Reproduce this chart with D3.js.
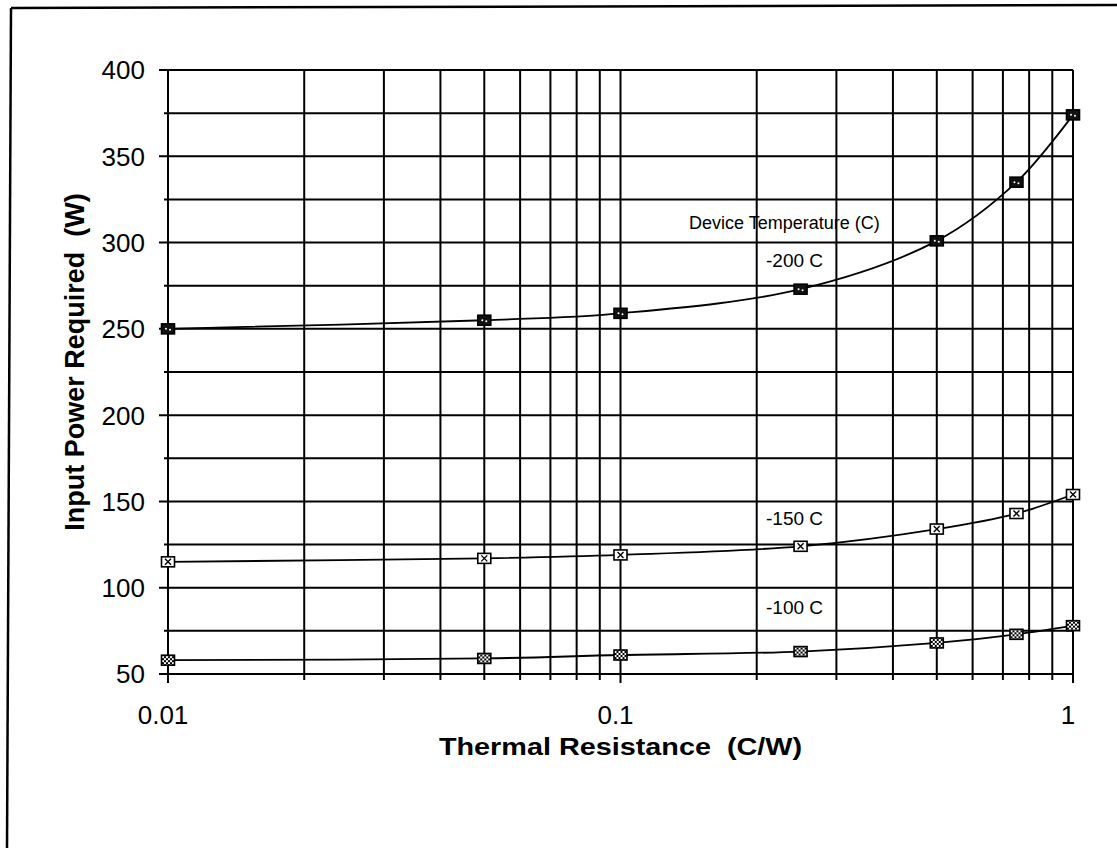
<!DOCTYPE html>
<html>
<head>
<meta charset="utf-8">
<script src="https://cdn.jsdelivr.net/npm/d3@7"></script>
<style>
  body { margin: 0; background: #fff; }
  text { font-family: "Liberation Sans", Arial, sans-serif; fill: #000; white-space: pre; }
</style>
</head>
<body>
<div id="chart"></div>
<script>
const width = 1117;
const height = 848;

// thermal resistance values (C/W)
const resistance = [0.01, 0.05, 0.1, 0.25, 0.5, 0.75, 1];
// input power required (W) for each device temperature
const power200 = [250, 255, 259, 273, 301, 335, 374];
const power150 = [115, 117, 119, 124, 134, 143, 154];
const power100 = [58, 59, 61, 63, 68, 73, 78];
const seriesNames = ["-200 C", "-150 C", "-100 C"];
const xTickLabels = ["0.01", "0.1", "1"];
const yTicks = [50, 100, 150, 200, 250, 300, 350, 400];

const margin = { top: 70, right: 44, bottom: 174, left: 168 };
const innerW = width - margin.left - margin.right;
const innerH = height - margin.top - margin.bottom;

const svg = d3.select("#chart").append("svg")
    .attr("width", width)
    .attr("height", height);

// scanned page frame (left + top edges)
svg.append("line").attr("x1", 11).attr("y1", 8).attr("x2", 7).attr("y2", height)
    .attr("stroke", "#000").attr("stroke-width", 2.5);
svg.append("line").attr("x1", 11).attr("y1", 8).attr("x2", width).attr("y2", 5)
    .attr("stroke", "#000").attr("stroke-width", 2.5);

// checker pattern for the -100 C markers
const defs = svg.append("defs");
const pat = defs.append("pattern").attr("id", "checker")
    .attr("width", 4).attr("height", 4).attr("patternUnits", "userSpaceOnUse");
pat.append("rect").attr("width", 4).attr("height", 4).attr("fill", "#fff");
pat.append("rect").attr("width", 2).attr("height", 2).attr("fill", "#000");
pat.append("rect").attr("x", 2).attr("y", 2).attr("width", 2).attr("height", 2).attr("fill", "#000");

const g = svg.append("g").attr("transform", `translate(${margin.left},${margin.top})`);

const x = d3.scaleLog().domain([0.01, 1]).range([0, innerW]);
const y = d3.scaleLinear().domain([50, 400]).range([innerH, 0]);

// gridlines: every 25 W, and every log minor step
const hLines = d3.range(50, 401, 25);
const vLines = x.ticks();

g.selectAll(".hgrid").data(hLines).enter().append("line")
    .attr("x1", d => d % 50 === 0 ? -9 : -4)
    .attr("x2", innerW)
    .attr("y1", d => y(d)).attr("y2", d => y(d))
    .attr("stroke", "#000").attr("stroke-width", 2);

g.selectAll(".vgrid").data(vLines).enter().append("line")
    .attr("x1", d => x(d)).attr("x2", d => x(d))
    .attr("y1", 0)
    .attr("y2", d => innerH + (xTickLabels.includes(String(d)) ? 9 : 6))
    .attr("stroke", "#000").attr("stroke-width", 2);

// tick labels
g.selectAll(".ylab").data(yTicks).enter().append("text")
    .attr("x", -23)
    .attr("y", d => y(d))
    .attr("dy", "0.36em")
    .attr("text-anchor", "end")
    .style("font-size", "26px")
    .text(d => d);

g.selectAll(".xlab").data(xTickLabels).enter().append("text")
    .attr("x", d => x(+d) - 5)
    .attr("y", innerH + 50)
    .attr("text-anchor", "middle")
    .style("font-size", "26px")
    .text(d => d);

// axis titles (the scan is a little wider than tall, so stretch sideways)
g.append("text")
    .attr("transform", `translate(${innerW / 2},${innerH + 81}) scale(1.2,1)`)
    .attr("text-anchor", "middle")
    .style("font-size", "24px")
    .style("font-weight", "bold")
    .text("Thermal Resistance  (C/W)");

g.append("text")
    .attr("transform", `translate(${-84},${innerH / 2 - 10}) rotate(-90)`)
    .attr("text-anchor", "middle")
    .style("font-size", "27px")
    .style("font-weight", "bold")
    .text("Input Power Required  (W)");

// series lines
const series = [power200, power150, power100].map((vals, i) => ({
    name: seriesNames[i],
    points: resistance.map((r, j) => ({ r: r, p: vals[j] }))
}));

const line = d3.line()
    .x(d => x(d.r))
    .y(d => y(d.p))
    .curve(d3.curveCatmullRom.alpha(0.5));

g.selectAll(".series").data(series).enter().append("path")
    .attr("d", d => line(d.points))
    .attr("fill", "none")
    .attr("stroke", "#000")
    .attr("stroke-width", 1.8);

// markers
const markerFill = ["#111", "#fff", "url(#checker)"];
series.forEach((s, i) => {
    const m = g.selectAll(".m" + i).data(s.points).enter().append("g")
        .attr("transform", d => `translate(${x(d.r)},${y(d.p)})`);
    m.append("rect")
        .attr("x", -6.5).attr("y", -5).attr("width", 13).attr("height", 10)
        .attr("fill", markerFill[i])
        .attr("stroke", "#000").attr("stroke-width", 1.6);
    if (i === 0) {
        m.append("circle").attr("cx", -2).attr("cy", 0).attr("r", 1).attr("fill", "#fff");
        m.append("circle").attr("cx", 2).attr("cy", 1).attr("r", 1).attr("fill", "#fff");
    } else if (i === 1) {
        m.append("path").attr("d", "M-3,-3L3,3M-3,3L3,-3")
            .attr("stroke", "#000").attr("stroke-width", 1.4);
    }
});

// annotations
g.append("text")
    .attr("x", 689 - margin.left)
    .attr("y", 223 - margin.top)
    .attr("dy", "0.35em")
    .style("font-size", "18px")
    .text("Device Temperature (C)");

const labelPos = [260, 518, 607];
seriesNames.forEach((n, i) => {
    g.append("text")
        .attr("x", 766 - margin.left)
        .attr("y", labelPos[i] - margin.top)
        .attr("dy", "0.35em")
        .style("font-size", "19px")
        .text(n);
});
</script>
</body>
</html>
